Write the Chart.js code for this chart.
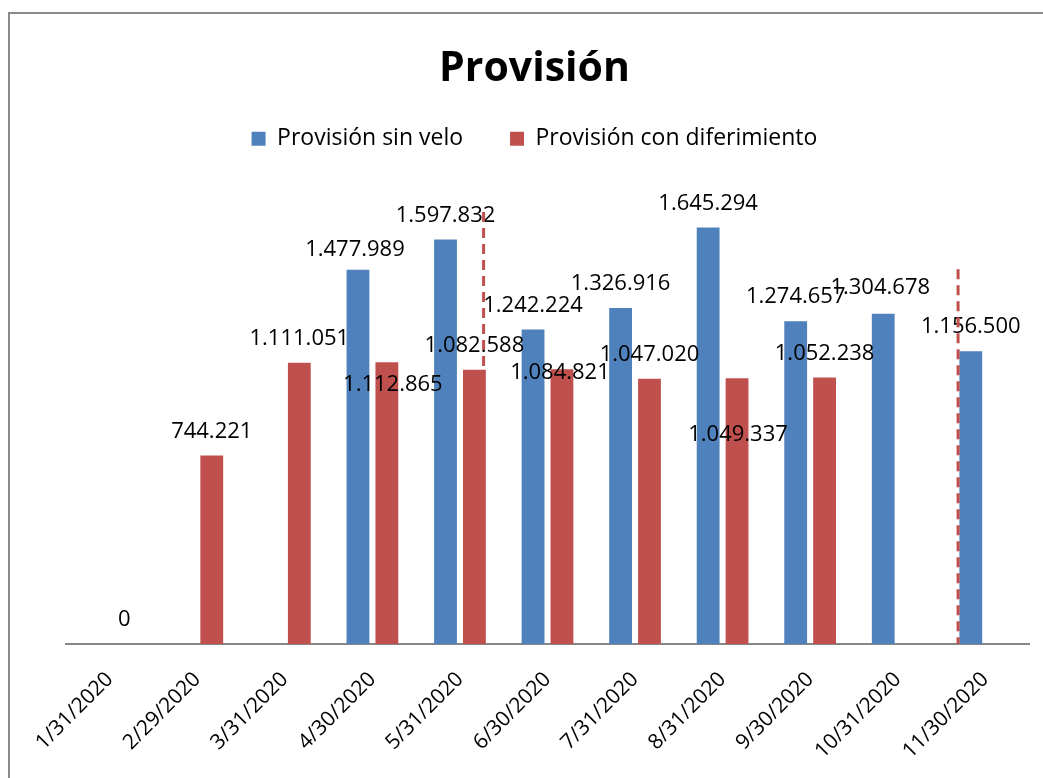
<!DOCTYPE html>
<html>
<head>
<meta charset="utf-8">
<script src="https://cdn.jsdelivr.net/npm/chart.js@4.4.0/dist/chart.umd.min.js"></script>
<style>
html, body { margin: 0; padding: 0; background: #fff; overflow: hidden; }
#frame { position: absolute; left: 8px; top: 12px; width: 1200px; height: 900px; border: 2px solid #8a8a8a; }
#wrap { position: absolute; left: 0; top: 0; width: 1043px; height: 778px; }
</style>
</head>
<body>
<div id="frame"></div>
<div id="wrap"><canvas id="myChart"></canvas></div>
<script>
// datos
var fechas = ['1/31/2020', '2/29/2020', '3/31/2020', '4/30/2020', '5/31/2020', '6/30/2020',
              '7/31/2020', '8/31/2020', '9/30/2020', '10/31/2020', '11/30/2020'];
var sinVelo = [null, null, null, 1477989, 1597832, 1242224, 1326916, 1645294, 1274657, 1304678, 1156500];
var conDiferimiento = [0, 744221, 1111051, 1112865, 1082588, 1084821, 1047020, 1049337, 1052238, null, null];
var ejeMax = 1800000;

var fuente = "'Open Sans', sans-serif";
var azul = '#4F81BD';
var rojo = '#C0504D';

// etiquetas movidas a mano en el original: [dx, px por encima de la barra]
var subeEtiqueta = 24;
var ajustesEtiquetas = [
    { 3: [-3, 20], 9: [-3, 26] },
    { 3: [6, -23], 5: [-2, -3], 7: [1, -56] }
];

// lineas discontinuas: categoria, desplazamiento (fraccion de categoria), valor superior
var lineasCortadas = [
    { indice: 4, desvio: 0.27, hasta: 1706000 },
    { indice: 10, desvio: -0.31, hasta: 1480000 }
];

function miles(v) {
    return String(v).replace(/\B(?=(\d{3})+(?!\d))/g, '.');
}

var etiquetas = {
    id: 'etiquetas',
    afterDatasetsDraw(chart) {
        var ctx = chart.ctx;
        ctx.save();
        ctx.font = '22px ' + fuente;
        ctx.fillStyle = '#000';
        ctx.textAlign = 'center';
        ctx.textBaseline = 'middle';
        chart.data.datasets.forEach(function (ds, i) {
            var meta = chart.getDatasetMeta(i);
            var ajustes = ajustesEtiquetas[i] || {};
            meta.data.forEach(function (bar, j) {
                var v = ds.data[j];
                if (v === null || v === undefined) return;
                var a = ajustes[j] || [0, subeEtiqueta];
                ctx.fillText(miles(v), bar.x + a[0], bar.y - a[1]);
            });
        });
        ctx.restore();
    }
};

var divisiones = {
    id: 'divisiones',
    afterDatasetsDraw(chart) {
        var ctx = chart.ctx;
        var x = chart.scales.x, y = chart.scales.y;
        var ancho = x.getPixelForValue(1) - x.getPixelForValue(0);
        ctx.save();
        ctx.strokeStyle = rojo;
        ctx.lineWidth = 3;
        ctx.setLineDash([10, 6]);
        lineasCortadas.forEach(function (l) {
            var px = x.getPixelForValue(l.indice) + l.desvio * ancho;
            ctx.beginPath();
            ctx.moveTo(px, y.getPixelForValue(l.hasta));
            ctx.lineTo(px, y.getPixelForValue(0));
            ctx.stroke();
        });
        ctx.restore();
    }
};

new Chart('myChart', {
    type: 'bar',
    data: {
        labels: fechas,
        datasets: [{
            label: 'Provisión sin velo',
            data: sinVelo,
            backgroundColor: azul,
            categoryPercentage: 0.66,
            barPercentage: 0.79
        }, {
            label: 'Provisión con diferimiento',
            data: conDiferimiento,
            backgroundColor: rojo,
            categoryPercentage: 0.66,
            barPercentage: 0.79
        }]
    },
    plugins: [etiquetas, divisiones],
    options: {
        responsive: true,
        maintainAspectRatio: false,
        animation: false,
        layout: { padding: { top: 45, left: 40, right: 14, bottom: 0 } },
        scales: {
            x: {
                grid: { display: false },
                border: { display: true, color: '#868686', width: 2 },
                ticks: {
                    color: '#000',
                    font: { family: fuente, size: 21 },
                    minRotation: 45,
                    maxRotation: 45,
                    autoSkip: false,
                    padding: 15
                },
                afterFit: function (scale) { scale.height = 134; }
            },
            y: {
                min: 0,
                max: ejeMax,
                grid: { display: false },
                border: { display: false },
                ticks: { display: false },
                afterFit: function (scale) { scale.width = 26; }
            }
        },
        plugins: {
            title: {
                display: true,
                text: 'Provisión',
                color: '#000',
                font: { family: fuente, size: 41, weight: 'bold' },
                padding: { top: 0, bottom: -14 }
            },
            // subtitulo vacio: solo deja hueco entre la leyenda y las barras
            subtitle: {
                display: true,
                text: ' ',
                weight: 500,
                font: { size: 10 },
                padding: { top: 0, bottom: 16 }
            },
            legend: {
                labels: {
                    color: '#000',
                    font: { family: fuente, size: 23 },
                    boxWidth: 14,
                    boxHeight: 14,
                    padding: 47
                }
            },
            tooltip: { enabled: false }
        }
    }
});
</script>
</body>
</html>
